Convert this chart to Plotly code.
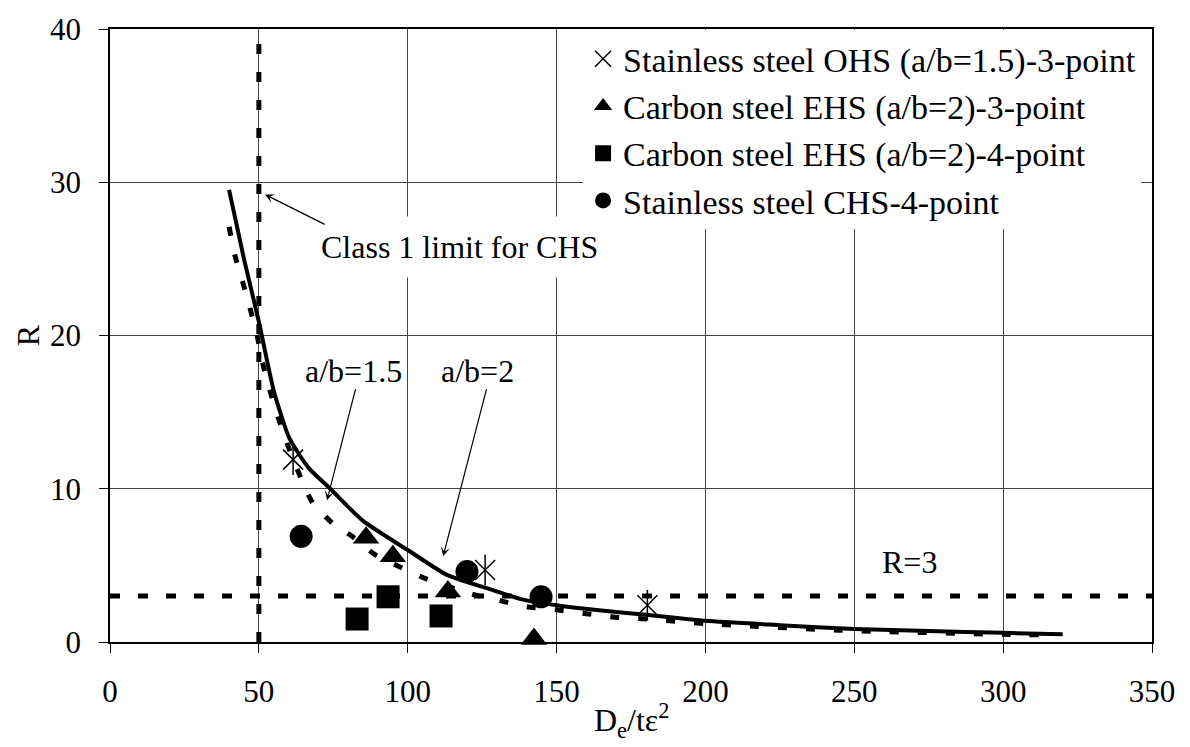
import plotly.graph_objects as go

FONT = "Liberation Serif, Times New Roman, serif"

# ---------------- data ----------------
# Design curves
solid_x = [40, 45, 50, 55, 60, 63, 67, 74, 85, 100, 113, 126, 138, 150, 165, 180, 200, 225, 250, 275, 300, 320]
solid_y = [29.5, 25.0, 20.9, 16.4, 13.4, 12.4, 11.3, 10.0, 7.9, 6.0, 4.4, 3.55, 2.8, 2.4, 2.05, 1.78, 1.38, 1.1, 0.85, 0.72, 0.6, 0.5]

dash_x = [40, 42, 44.7, 47, 49.4, 51.4, 53.7, 56.4, 59.4, 63.8, 68, 75.6, 81.3, 89, 97.4, 106.5, 121, 131, 140, 150, 160, 170.6, 180, 200, 245, 300, 318]
dash_y = [27.1, 25.2, 23.4, 21.8, 20.0, 18.1, 16.4, 14.7, 13.0, 10.85, 9.1, 7.6, 6.9, 5.7, 4.9, 4.1, 3.15, 2.7, 2.3, 2.1, 1.85, 1.6, 1.5, 1.2, 0.77, 0.5, 0.45]

# Reference lines
class1_x = [50, 50]
class1_y = [0, 40]
r3_x = [0, 350]
r3_y = [3, 3]

# Test data
ohs_x = [61.5, 126.0, 180.5]
ohs_y = [11.9, 4.7, 2.4]
ehs3_x = [86.0, 95.0, 113.5, 142.4]
ehs3_y = [6.8, 5.6, 3.3, 0.2]
ehs4_x = [83.0, 93.4, 111.2]
ehs4_y = [1.5, 2.95, 1.7]
chs4_x = [64.2, 119.9, 144.8]
chs4_y = [6.9, 4.6, 2.95]

names = [
    "Stainless steel OHS (a/b=1.5)-3-point",
    "Carbon steel EHS (a/b=2)-3-point",
    "Carbon steel EHS (a/b=2)-4-point",
    "Stainless steel CHS-4-point",
]

x_ticks = [0, 50, 100, 150, 200, 250, 300, 350]
y_ticks = [0, 10, 20, 30, 40]

# ---------------- figure ----------------
fig = go.Figure()

fig.add_trace(go.Scatter(x=class1_x, y=class1_y, mode="lines",
                         line=dict(color="black", width=5, dash="10px,18px"),
                         showlegend=False, hoverinfo="skip"))
fig.add_trace(go.Scatter(x=r3_x, y=r3_y, mode="lines",
                         line=dict(color="black", width=5, dash="10px,18px"),
                         showlegend=False, hoverinfo="skip"))
fig.add_trace(go.Scatter(x=dash_x, y=dash_y, mode="lines",
                         line=dict(color="black", width=5, dash="9px,19px", shape="spline", smoothing=0.6),
                         showlegend=False, hoverinfo="skip"))
fig.add_trace(go.Scatter(x=solid_x, y=solid_y, mode="lines",
                         line=dict(color="black", width=4, shape="spline", smoothing=0.6),
                         showlegend=False, hoverinfo="skip"))

fig.add_trace(go.Scatter(x=ohs_x, y=ohs_y, mode="markers", name=names[0],
                         marker=dict(symbol="x-thin-open", size=20, color="black",
                                     line=dict(color="black", width=1.5)),
                         cliponaxis=False))
fig.add_trace(go.Scatter(x=ohs_x, y=ohs_y, mode="markers", showlegend=False,
                         marker=dict(symbol="line-ns-open", size=22, color="black",
                                     line=dict(color="black", width=1.5)),
                         cliponaxis=False))
fig.add_trace(go.Scatter(x=ehs3_x, y=ehs3_y, mode="markers", name=names[1],
                         marker=dict(symbol="triangle-up", size=23, color="black"),
                         cliponaxis=False))
fig.add_trace(go.Scatter(x=ehs4_x, y=ehs4_y, mode="markers", name=names[2],
                         marker=dict(symbol="square", size=23, color="black"),
                         cliponaxis=False))
fig.add_trace(go.Scatter(x=chs4_x, y=chs4_y, mode="markers", name=names[3],
                         marker=dict(symbol="circle", size=23, color="black"),
                         cliponaxis=False))

axis_common = dict(
    showgrid=True, gridcolor="#444", gridwidth=1,
    showline=True, linecolor="black", linewidth=1.5, mirror=True,
    ticks="outside", ticklen=9, tickwidth=1, tickcolor="black",
    zeroline=False,
    tickfont=dict(family=FONT, size=31, color="black"),
)

fig.update_xaxes(range=[0, 350], tickvals=x_ticks, ticklabelstandoff=12, **axis_common)
fig.update_yaxes(range=[0, 40], tickvals=y_ticks, ticklabelstandoff=12, **axis_common)

txt = dict(family=FONT, size=32, color="black")
arrow = dict(showarrow=True, arrowhead=3, arrowsize=1.3, arrowwidth=1.2, arrowcolor="black",
             axref="x", ayref="y", xref="x", yref="y", text="")

annotations = [
    dict(x=117.5, y=25.8, xref="x", yref="y", text="Class 1 limit for CHS", showarrow=False,
         font=txt, bgcolor="white", borderpad=12),
    dict(x=52.1, y=29.2, ax=72.6, ay=27.2, **arrow),
    dict(x=81.7, y=17.7, xref="x", yref="y", text="a/b=1.5", showarrow=False, font=txt),
    dict(x=72.9, y=9.25, ax=82.6, ay=16.6, **arrow),
    dict(x=123.3, y=17.7, xref="x", yref="y", text="a/b=2", showarrow=False, font=txt),
    dict(x=111.9, y=5.6, ax=126.6, ay=16.6, **arrow),
    dict(x=268.6, y=5.2, xref="x", yref="y", text="R=3", showarrow=False, font=txt),
    dict(x=-0.079, y=0.5, xref="paper", yref="paper", xanchor="center", yanchor="middle",
         text="R", showarrow=False, font=txt, textangle=-90),
    dict(x=0.5, y=-0.128, xref="paper", yref="paper", xanchor="center", yanchor="middle",
         text="D<sub>e</sub>/tε<sup>2</sup>", showarrow=False, font=txt),
]

fig.update_layout(
    width=1190, height=747,
    margin=dict(l=110, r=38, t=19, b=105),
    paper_bgcolor="white", plot_bgcolor="white",
    font=dict(family=FONT, color="black"),
    annotations=annotations,
    legend=dict(x=0.454, y=0.998, xanchor="left", yanchor="top", bgcolor="white",
                borderwidth=0, font=dict(family=FONT, size=34, color="black")),
)

fig.write_html("out.html")
